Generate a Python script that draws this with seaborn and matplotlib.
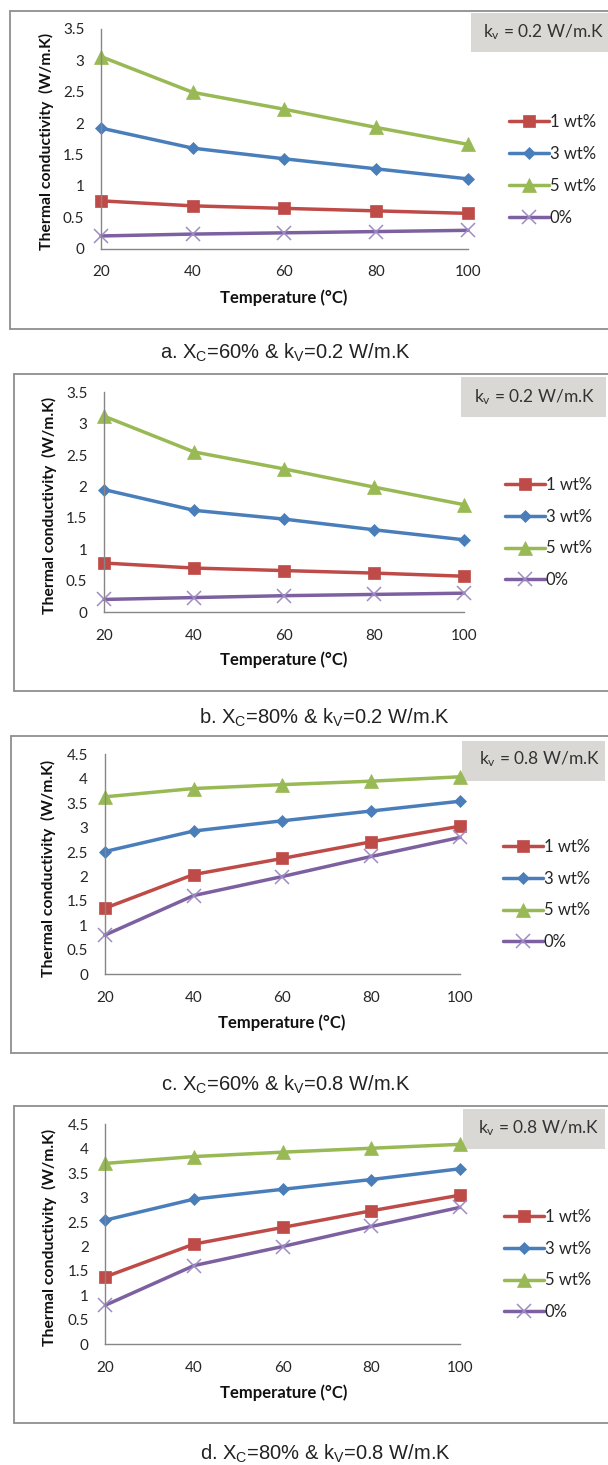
import numpy as np
import pandas as pd
import matplotlib
matplotlib.use("Agg")
import matplotlib.pyplot as plt
import seaborn as sns
from matplotlib.patches import Rectangle
from matplotlib.lines import Line2D

# ---------------- data ----------------
temps = [20, 40, 60, 80, 100]
series_order = ["1 wt%", "3 wt%", "5 wt%", "0%"]

a_w1 = [0.76, 0.68, 0.64, 0.60, 0.56]
a_w3 = [1.92, 1.60, 1.43, 1.27, 1.11]
a_w5 = [3.06, 2.49, 2.22, 1.93, 1.66]
a_w0 = [0.20, 0.23, 0.25, 0.27, 0.29]

b_w1 = [0.78, 0.70, 0.66, 0.62, 0.57]
b_w3 = [1.95, 1.62, 1.48, 1.31, 1.15]
b_w5 = [3.12, 2.55, 2.28, 1.99, 1.71]
b_w0 = [0.20, 0.23, 0.26, 0.28, 0.30]

c_w1 = [1.35, 2.04, 2.37, 2.71, 3.03]
c_w3 = [2.51, 2.93, 3.14, 3.34, 3.54]
c_w5 = [3.63, 3.80, 3.88, 3.95, 4.04]
c_w0 = [0.80, 1.61, 2.00, 2.41, 2.80]

d_w1 = [1.38, 2.05, 2.39, 2.73, 3.05]
d_w3 = [2.54, 2.97, 3.17, 3.37, 3.59]
d_w5 = [3.70, 3.84, 3.93, 4.01, 4.09]
d_w0 = [0.80, 1.61, 2.00, 2.41, 2.80]

a_ticks = [0, 0.5, 1, 1.5, 2, 2.5, 3, 3.5]
c_ticks = [0, 0.5, 1, 1.5, 2, 2.5, 3, 3.5, 4, 4.5]

captions = [
    r"a. X$_\mathsf{C}$=60% & k$_\mathsf{V}$=0.2 W/m.K",
    r"b. X$_\mathsf{C}$=80% & k$_\mathsf{V}$=0.2 W/m.K",
    r"c. X$_\mathsf{C}$=60% & k$_\mathsf{V}$=0.8 W/m.K",
    r"d. X$_\mathsf{C}$=80% & k$_\mathsf{V}$=0.8 W/m.K",
]
box_texts = [
    r"k$_\mathrm{v}$ = 0.2 W/m.K",
    r"k$_\mathrm{v}$ = 0.2 W/m.K",
    r"k$_\mathrm{v}$ = 0.8 W/m.K",
    r"k$_\mathrm{v}$ = 0.8 W/m.K",
]
xlabel = "Temperature (°C)"
ylabel = "Thermal conductivity  (W/m.K)"

# ---------------- style ----------------
sns.set_style("white")
plt.rcParams["font.family"] = ["Lato", "DejaVu Sans"]
plt.rcParams["mathtext.fontset"] = "custom"
plt.rcParams["mathtext.rm"] = "Lato"
plt.rcParams["mathtext.it"] = "Lato:italic"
plt.rcParams["mathtext.bf"] = "Lato:bold"
plt.rcParams["mathtext.sf"] = "Liberation Sans"

W, H = 608, 1465
fig = plt.figure(figsize=(W / 100, H / 100), dpi=100)
fig.patch.set_facecolor("white")


def fx(px):
    return px / W


def fy(py):
    return 1 - py / H


palette = {"1 wt%": "#BE4B48", "3 wt%": "#4A7EBB", "5 wt%": "#98B954", "0%": "#7D60A0"}
markers = {"1 wt%": "s", "3 wt%": "D", "5 wt%": "^", "0%": "x"}
msizes = {"s": 8.0, "D": 6.5, "^": 10.0, "x": 10.0}

panels = [
    dict(data=[a_w1, a_w3, a_w5, a_w0], ymax=3.5, ticks=a_ticks,
         x20=101, x100=468, y0=248.5, ytop=29,
         border=(10, 11, 328.5), box=(471, 12.7, 608, 52), boxtext=(483, 32, "left"),
         leg=(509, 170), ylab=(46.5, 141.5), xlab=(284, 298), cap=(285, 352)),
    dict(data=[b_w1, b_w3, b_w5, b_w0], ymax=3.5, ticks=a_ticks,
         x20=104, x100=464, y0=612, ytop=392.3,
         border=(14, 374, 690.5), box=(461, 377, 606, 417), boxtext=(534.5, 397, "center"),
         leg=(505, 532.5), ylab=(49, 505.5), xlab=(284, 660), cap=(324, 717)),
    dict(data=[c_w1, c_w3, c_w5, c_w0], ymax=4.5, ticks=c_ticks,
         x20=104.7, x100=460, y0=974.3, ytop=754.3,
         border=(11, 736, 1053), box=(462, 741, 605, 781), boxtext=(540, 759, "center"),
         leg=(503, 894.5), ylab=(48, 868), xlab=(282, 1022.7), cap=(286, 1084)),
    dict(data=[d_w1, d_w3, d_w5, d_w0], ymax=4.5, ticks=c_ticks,
         x20=105.4, x100=459.7, y0=1344.3, ytop=1124.3,
         border=(14, 1106, 1423), box=(463, 1109, 605, 1149), boxtext=(538.5, 1128, "center"),
         leg=(504, 1264.5), ylab=(49, 1237.5), xlab=(284, 1392.7), cap=(325, 1453)),
]

axis_gray = "#868686"
text_col = "#262626"

for i, p in enumerate(panels):
    # outer border (right side runs off the image)
    bl, bt, bb = p["border"]
    for xs, ys in [([bl, bl], [bt, bb]), ([bl, W + 5], [bt, bt]), ([bl, W + 5], [bb, bb])]:
        fig.add_artist(Line2D([fx(v) for v in xs], [fy(v) for v in ys],
                              transform=fig.transFigure, color="#8f8f8f", lw=1.3))

    ax = fig.add_axes([fx(p["x20"]), fy(p["y0"]),
                       (p["x100"] - p["x20"]) / W, (p["y0"] - p["ytop"]) / H])
    ax.set_facecolor("none")

    handles = {}
    for name, vals in zip(series_order, p["data"]):
        df = pd.DataFrame({"T": temps, "k": vals})
        mk = markers[name]
        col = palette[name]
        sns.lineplot(data=df, x="T", y="k", color=col, marker=mk, lw=2.5, ax=ax,
                     errorbar=None, sort=False, legend=False)
        ln = ax.lines[-1]
        ln.set_clip_on(False)
        ln.set_markersize(msizes[mk])
        if mk == "x":
            ln.set_markeredgecolor("#9E8CC4")
            ln.set_markeredgewidth(1.1)
        else:
            ln.set_markeredgecolor(col)
            ln.set_markerfacecolor(col)
            ln.set_markeredgewidth(0.5)
        handles[name] = ln

    ax.set_xlim(20, 100)
    ax.set_ylim(0, p["ymax"])
    ax.set_xticks(temps)
    ax.set_xticklabels([str(t) for t in temps])
    ax.set_yticks(p["ticks"])
    ax.set_yticklabels([f"{t:g}" for t in p["ticks"]])
    for s in ["top", "right"]:
        ax.spines[s].set_visible(False)
    for s in ["left", "bottom"]:
        ax.spines[s].set_color(axis_gray)
        ax.spines[s].set_linewidth(1.0)
    ax.tick_params(axis="both", direction="out", length=4, width=1.0, color=axis_gray,
                   labelcolor=text_col, labelsize=11)
    ax.tick_params(axis="y", pad=8)
    ax.tick_params(axis="x", pad=8)

    ax.set_xlabel(xlabel, fontsize=12, fontweight="bold", color="#111111")
    ax.xaxis.set_label_coords(fx(p["xlab"][0]), fy(p["xlab"][1]), transform=fig.transFigure)
    ax.xaxis.label.set_va("center")
    ax.set_ylabel(ylabel, fontsize=11.3, fontweight="bold", color="#111111")
    ax.yaxis.set_label_coords(fx(p["ylab"][0]), fy(p["ylab"][1]), transform=fig.transFigure)
    ax.yaxis.label.set_va("center")

    ax.legend([handles[n] for n in series_order], series_order,
              loc="center left", bbox_to_anchor=(fx(p["leg"][0]), fy(p["leg"][1])),
              bbox_transform=fig.transFigure, frameon=False, handlelength=2.4,
              handletextpad=0.05, labelspacing=0.95, borderpad=0, borderaxespad=0,
              fontsize=12, numpoints=1, labelcolor=text_col)

    # gray kv box
    x0, y0b, x1, y1b = p["box"]
    fig.add_artist(Rectangle((fx(x0), fy(y1b)), (x1 - x0) / W, (y1b - y0b) / H,
                             transform=fig.transFigure, facecolor="#D9D8D5",
                             edgecolor="none", zorder=0))
    tx, ty, tha = p["boxtext"]
    fig.text(fx(tx), fy(ty), box_texts[i], ha=tha, va="center", fontsize=12.5,
             color="#333333")

    # caption
    fig.text(fx(p["cap"][0]), fy(p["cap"][1]), captions[i], ha="center", va="center",
             fontsize=14.5, family="Liberation Sans", color="#222222")

fig.savefig("out.png", dpi=100, facecolor="white")
